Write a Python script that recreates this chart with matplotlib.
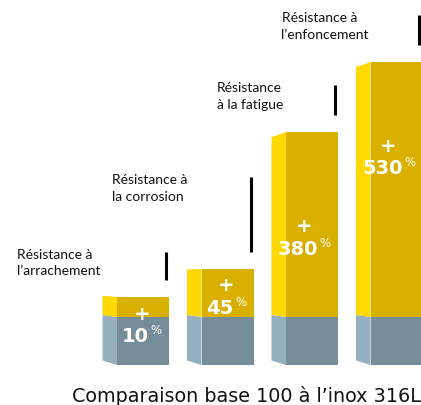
import numpy as np
import matplotlib.pyplot as plt
from matplotlib.patches import Polygon

# data: gain vs inox 316L (base 100)
categories = ["Résistance à\nl’arrachement", "Résistance à\nla corrosion",
              "Résistance\nà la fatigue", "Résistance à\nl’enfoncement"]
gains = [10, 45, 380, 530]
# drawn heights (base 100 = grey block); small gains are exaggerated in the source
bar_tops = [142, 200, 485, 631]
base = 100
title = "Comparaison base 100 à l’inox 316L"

# layout (in pixels of the 421x405 picture)
PX_X = 84.5      # px per bar slot
PX_Y = 0.48      # px per value unit
text_shift = [-100, -89, -69, -89]   # text left edge vs bar front left
tick_len = [28, 75, 30, 30]          # black marker length
num_y = [62, 121, 244, 412]          # center of the big number

gold_front, gold_side = "#D9AF00", "#FFD800"
grey_front, grey_side = "#758C99", "#93AFC0"


def dx(p):
    return p / PX_X


def dy(p):
    return p / PX_Y


def lift(y):
    # left edge of the side face is shifted a bit (fake perspective)
    return max(0.052 * (180 - y), -dy(5))


fig = plt.figure(figsize=(4.21, 4.05), dpi=100)
ax = fig.add_axes([0, 0, 1, 1])
ax.set_xlim(-143 / PX_X, (421 - 143) / PX_X)
ax.set_ylim(-40 / PX_Y, 365 / PX_Y)
ax.axis("off")

half = dx(26)
side = dx(14.5)
for i, top in enumerate(bar_tops):
    x0, x1 = i - half, i + half
    xs = x0 - side
    ax.add_patch(Polygon([(x0, 0), (x1, 0), (x1, base), (x0, base)],
                         closed=True, fc=grey_front, ec="none"))
    ax.add_patch(Polygon([(xs, lift(0)), (x0, 0), (x0, base), (xs, base + lift(base))],
                         closed=True, fc=grey_side, ec="none"))
    ax.add_patch(Polygon([(x0, base), (x1, base), (x1, top), (x0, top)],
                         closed=True, fc=gold_front, ec="none"))
    ax.add_patch(Polygon([(xs, base + lift(base)), (x0, base), (x0, top), (xs, top + lift(top))],
                         closed=True, fc=gold_side, ec="none"))

    # black marker + category text
    lx = x1 - dx(3)
    y_lo = top + dy(17)
    y_hi = y_lo + dy(tick_len[i])
    ax.plot([lx, lx], [y_lo, y_hi], color="black", lw=2.2, solid_capstyle="butt")
    ax.text(x0 + dx(text_shift[i]), y_hi + dy(3), categories[i], ha="left", va="top",
            fontsize=10, family="Lato", color="#111111", linespacing=1.45)

fig.canvas.draw()
renderer = fig.canvas.get_renderer()
inv = ax.transData.inverted()

for i, g in enumerate(gains):
    split = i + dx(6)
    t = ax.text(split, num_y[i] - dy(7), str(g), ha="right", va="baseline", fontsize=14,
                fontweight="bold", family="DejaVu Sans", color="white")
    p = ax.text(split + dx(1.5), num_y[i] + dy(1), "%", ha="left", va="baseline",
                fontsize=8.5, family="DejaVu Sans", color="white")
    bb = t.get_window_extent(renderer)
    pb = p.get_window_extent(renderer)
    cx = inv.transform(((bb.x0 + pb.x1) / 2, 0))[0]
    ax.text(cx, num_y[i] + dy(21), "+", ha="center", va="center", fontsize=14,
            fontweight="bold", family="DejaVu Sans", color="white")

fig.text(72 / 421, 1 - 402 / 405, title, ha="left", va="baseline",
         fontsize=13.8, family="DejaVu Sans", color="#111111")

fig.savefig("out.png", dpi=100, facecolor="white")
